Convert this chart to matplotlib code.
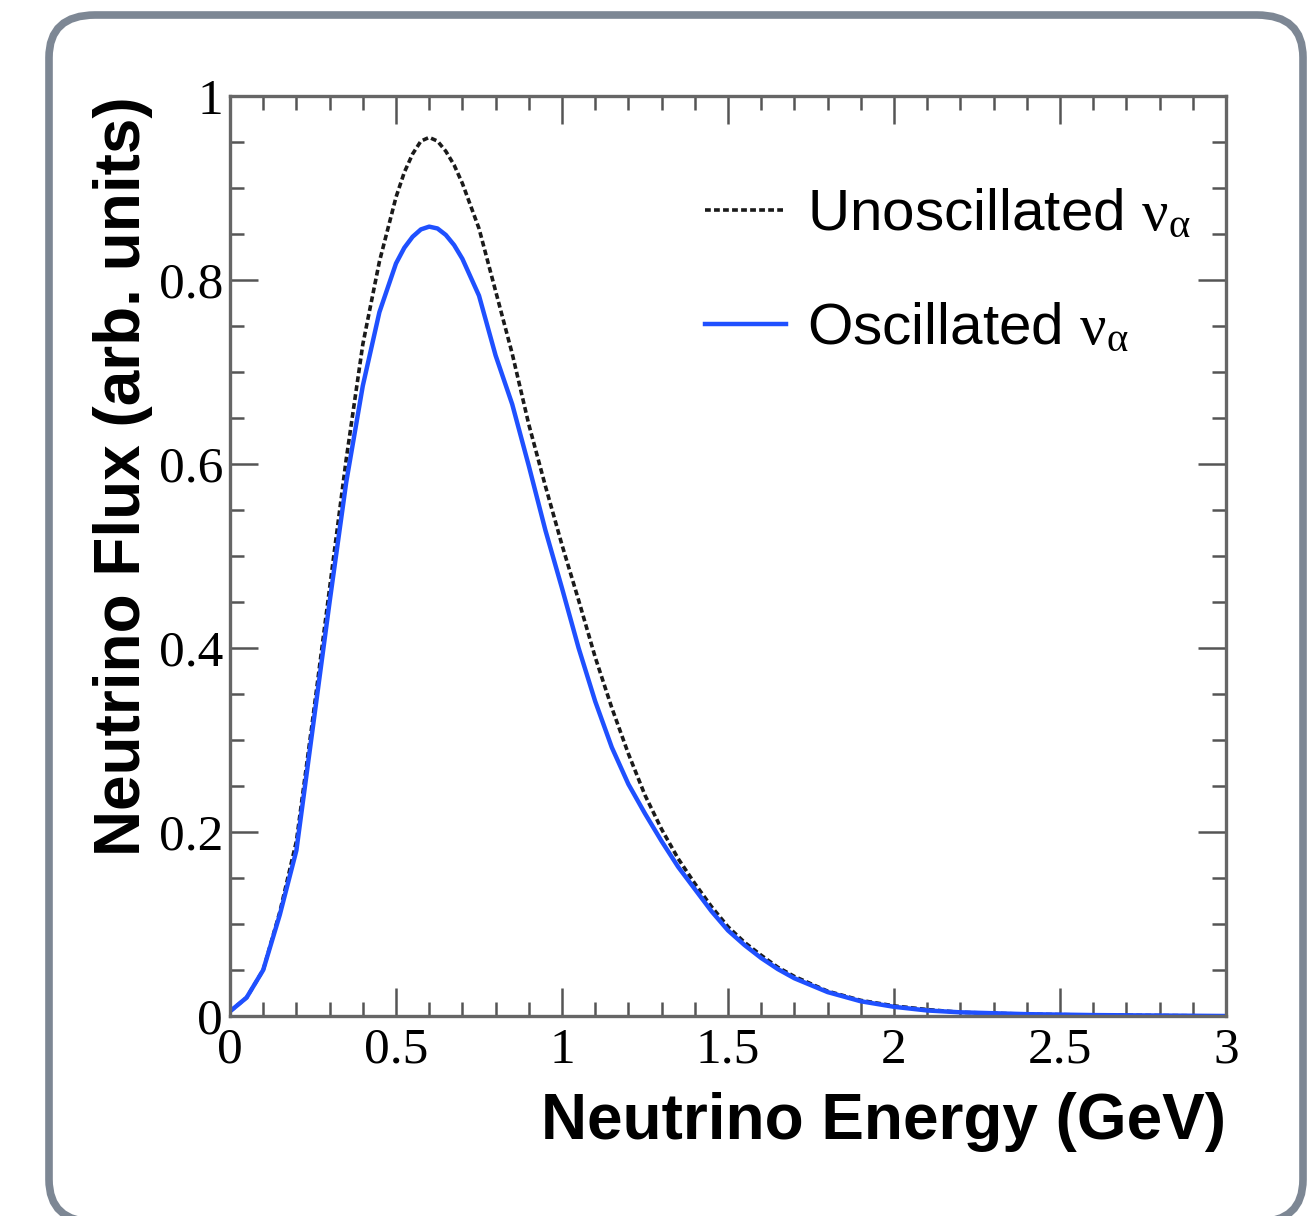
import matplotlib
matplotlib.use("Agg")
import matplotlib.pyplot as plt
from matplotlib.patches import FancyBboxPatch
from matplotlib.ticker import MultipleLocator

# energies (GeV) and fluxes
energy = [0.0, 0.05, 0.1, 0.15, 0.2, 0.25, 0.3, 0.35, 0.4, 0.45, 0.5, 0.525,
          0.55, 0.575, 0.6, 0.625, 0.65, 0.675, 0.7, 0.75, 0.8, 0.85, 0.9, 0.95,
          1.0, 1.05, 1.1, 1.15, 1.2, 1.25, 1.3, 1.35, 1.4, 1.45, 1.5, 1.55,
          1.6, 1.65, 1.7, 1.8, 1.9, 2.0, 2.1, 2.2, 2.4, 2.6, 2.8, 3.0]
unosc = [0.005, 0.02, 0.05, 0.113, 0.19, 0.325, 0.465, 0.605, 0.73, 0.82, 0.89, 0.917,
         0.937, 0.951, 0.955, 0.951, 0.94, 0.925, 0.905, 0.856, 0.788, 0.72, 0.643, 0.576,
         0.512, 0.452, 0.39, 0.335, 0.285, 0.240, 0.203, 0.171, 0.144, 0.119, 0.097, 0.080,
         0.066, 0.053, 0.043, 0.027, 0.017, 0.011, 0.007, 0.004, 0.002, 0.001, 0.0005, 0.0]
osc = [0.005, 0.02, 0.05, 0.11, 0.18, 0.315, 0.45, 0.58, 0.685, 0.765, 0.818, 0.835,
       0.847, 0.855, 0.858, 0.856, 0.849, 0.838, 0.823, 0.783, 0.718, 0.665, 0.598, 0.528,
       0.465, 0.40, 0.342, 0.292, 0.252, 0.220, 0.190, 0.162, 0.138, 0.114, 0.093, 0.077,
       0.063, 0.051, 0.041, 0.026, 0.016, 0.010, 0.006, 0.004, 0.002, 0.001, 0.0005, 0.0]

# upright greek from Liberation Serif in the legend
plt.rcParams['mathtext.fontset'] = 'custom'
plt.rcParams['mathtext.rm'] = 'Liberation Serif'
plt.rcParams['mathtext.it'] = 'Liberation Serif'

fig = plt.figure(figsize=(13.16, 12.16), dpi=100)

# rounded frame around the whole figure
frame = FancyBboxPatch((49 / 1316, -6 / 1216), 1254 / 1316, 1207 / 1216,
                       boxstyle="round,pad=0,rounding_size=0.035",
                       transform=fig.transFigure, fill=False,
                       edgecolor='#7d8794', linewidth=5.5, clip_on=False)
fig.patches.append(frame)

ax = fig.add_axes([230 / 1316, 200 / 1216, 996 / 1316, 920 / 1216])

ax.plot(energy, unosc, color='#1a1a1a', lw=2.6, ls=(0, (1.6, 0.9)),
        label=r'Unoscillated $\mathrm{\nu_{\alpha}}$')
ax.plot(energy, osc, color='#1f50ff', lw=3.2,
        label=r'Oscillated $\mathrm{\nu_{\alpha}}$')

ax.set_xlim(0, 3)
ax.set_ylim(0, 1)
ax.xaxis.set_minor_locator(MultipleLocator(0.1))
ax.yaxis.set_minor_locator(MultipleLocator(0.05))
ax.set_xticks([0, 0.5, 1, 1.5, 2, 2.5, 3], ['0', '0.5', '1', '1.5', '2', '2.5', '3'])
ax.set_yticks([0, 0.2, 0.4, 0.6, 0.8, 1], ['0', '0.2', '0.4', '0.6', '0.8', '1'])

for s in ax.spines.values():
    s.set_color('#666666')
    s.set_linewidth(2.4)
ax.tick_params(which='both', direction='in', top=True, right=True,
               color='#555555', width=1.8, labelsize=37,
               labelfontfamily='Liberation Serif')
ax.tick_params(which='major', length=20)
ax.tick_params(which='minor', length=10)
ax.tick_params(axis='x', pad=8)
ax.tick_params(axis='y', pad=5)

ax.set_xlabel('Neutrino Energy (GeV)', fontsize=46, fontweight='bold',
              family='Liberation Sans', loc='right')
ax.set_ylabel('Neutrino Flux (arb. units)', fontsize=46, fontweight='bold',
              family='Liberation Sans', loc='top')
ax.xaxis.set_label_coords(1.0, -0.083)
ax.yaxis.set_label_coords(-0.077, 1.0)

ax.legend(loc='upper left', bbox_to_anchor=(0.477, 0.90), frameon=False,
          prop={'family': 'Liberation Sans', 'size': 42},
          handlelength=1.38, handletextpad=0.36, labelspacing=1.03,
          borderpad=0, borderaxespad=0)

fig.savefig('out.png', dpi=100)
